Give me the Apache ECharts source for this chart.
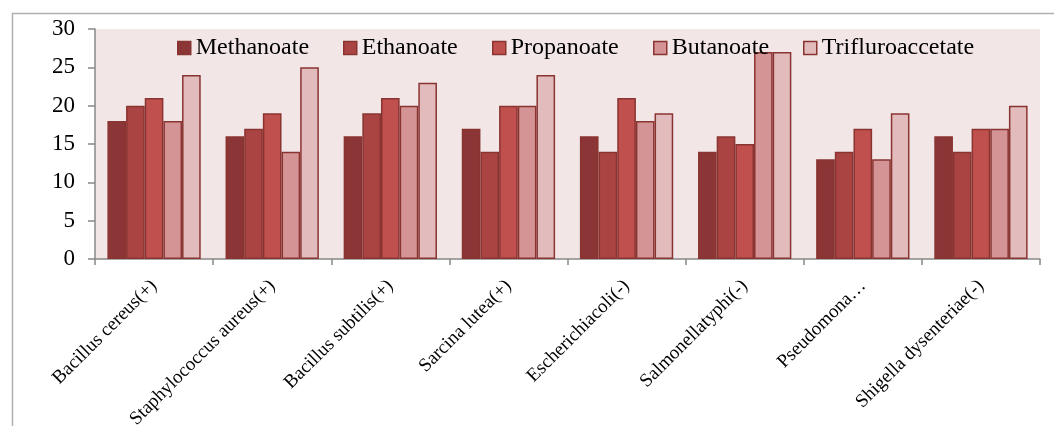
<!DOCTYPE html>
<html><head><meta charset="utf-8">
<script src="https://cdn.jsdelivr.net/npm/echarts@6/dist/echarts.min.js"></script>
<style>html,body{margin:0;padding:0;background:#fff}#c{width:1054px;height:426px}</style>
</head><body><div id="c"></div>
<script>
const categories = ["Bacillus cereus(+)","Staphylococcus aureus(+)","Bacillus subtilis(+)","Sarcina lutea(+)","Escherichiacoli(-)","Salmonellatyphi(-)","Pseudomona…","Shigella dysenteriae(-)"];
const seriesNames = ["Methanoate","Ethanoate","Propanoate","Butanoate","Trifluroaccetate"];
const methanoate = [18,16,16,17,16,14,13,16];
const ethanoate = [20,17,19,14,14,16,14,14];
const propanoate = [21,19,21,20,21,15,17,17];
const butanoate = [18,14,20,20,18,27,13,17];
const trifluroaccetate = [24,25,23,24,19,27,19,20];
const yTicks = {min:0,max:30,interval:5};
const colors = ['#8b3536','#a94442','#c0504d','#d49394','#e2bbbc'];
const values = [methanoate,ethanoate,propanoate,butanoate,trifluroaccetate];
const legendLeft = [177,343,492,653,803];
const font = 'Liberation Serif';
const chart = echarts.init(document.getElementById('c'), null, {renderer:'canvas'});
chart.setOption({
  animation:false,
  backgroundColor:'#fff',
  graphic:[{type:'rect',left:10,top:11,shape:{width:1200,height:600},style:{fill:'none',stroke:'#b0b0b0',lineWidth:1.5},z:-10}],
  grid:{left:95,right:14,top:29,bottom:167,show:true,backgroundColor:'#f2e6e7',borderWidth:0,containLabel:false,outerBoundsMode:'none'},
  legend:seriesNames.map((n,i)=>({top:31,left:legendLeft[i],itemWidth:13,itemHeight:13,icon:'rect',padding:[5,0,5,0],
    itemStyle:{borderColor:'#8a3432',borderWidth:1.5},
    textStyle:{fontFamily:font,fontSize:24,color:'#000'},data:[n]})),
  xAxis:{type:'category',data:categories,
    axisLine:{lineStyle:{color:'#888',width:1.5}},
    axisTick:{show:true,length:6,lineStyle:{color:'#888',width:1.5}},
    axisLabel:{rotate:45,interval:0,fontFamily:font,fontSize:19,color:'#000',margin:24}},
  yAxis:{type:'value',min:yTicks.min,max:yTicks.max,interval:yTicks.interval,
    splitLine:{show:false},
    axisLine:{show:true,lineStyle:{color:'#888',width:1.5}},
    axisTick:{show:true,length:7,lineStyle:{color:'#888',width:1.5}},
    axisLabel:{fontFamily:font,fontSize:23,color:'#000',margin:20}},
  series:seriesNames.map((n,i)=>({name:n,type:'bar',data:values[i],barGap:'0%',barCategoryGap:'21%',
    itemStyle:{color:colors[i],borderColor:'#8a3432',borderWidth:1.5}}))
});
</script></body></html>
